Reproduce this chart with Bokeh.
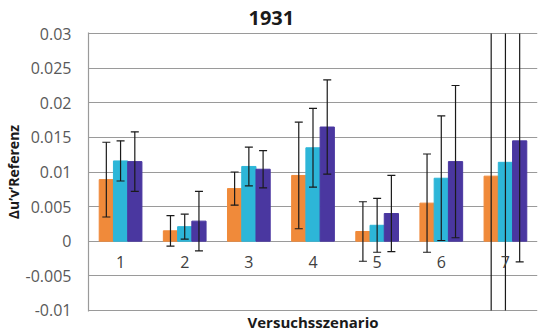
import numpy as np
from bokeh.plotting import figure
from bokeh.models import Range1d, FixedTicker, ColumnDataSource
from bokeh.core.properties import value
from bokeh.embed import file_html
from bokeh.resources import INLINE

categories = ["1", "2", "3", "4", "5", "6", "7"]
orange_vals = [0.0089, 0.0015, 0.0076, 0.0095, 0.0014, 0.0055, 0.0094]
orange_err = [0.0054, 0.0022, 0.0024, 0.0077, 0.0043, 0.0071, 0.0300]
cyan_vals = [0.0116, 0.0021, 0.0108, 0.0135, 0.0023, 0.0091, 0.0114]
cyan_err = [0.0029, 0.0018, 0.0028, 0.0057, 0.0039, 0.0090, 0.0300]
purple_vals = [0.0115, 0.0029, 0.0104, 0.0165, 0.0040, 0.0115, 0.0145]
purple_err = [0.0043, 0.0043, 0.0027, 0.0068, 0.0055, 0.0110, 0.0175]
y_ticks = [-0.01, -0.005, 0, 0.005, 0.01, 0.015, 0.02, 0.025, 0.03]
y_tick_labels = ["-0.01", "-0.005", "0", "0.005", "0.01", "0.015", "0.02", "0.025", "0.03"]

FONT = "Open Sans"
BAR_W = 0.222
Y_MIN, Y_MAX = -0.01, 0.03
PAD = 0.00016

p = figure(width=538, height=334, x_range=Range1d(0.5, 7.5),
           y_range=Range1d(Y_MIN - PAD, Y_MAX + PAD),
           output_backend="svg", toolbar_location=None,
           min_border_left=86, min_border_right=1, min_border_top=32, min_border_bottom=21)
p.outline_line_color = None
p.background_fill_color = "white"
p.border_fill_color = "white"

# title
p.title.text = "1931"
p.title.align = "left"
p.title.offset = 160
p.title.standoff = 16
p.title.text_font = FONT
p.title.text_font_size = "20px"
p.title.text_font_style = "bold"
p.title.text_color = "#1a1a1a"

# grid: drawn as horizontal spans at the tick values
p.xgrid.visible = False
p.ygrid.visible = False
p.hspan(y=y_ticks, line_color="#9a9a9a", line_width=1.2)

# y axis
p.yaxis.ticker = FixedTicker(ticks=y_ticks)
p.yaxis.major_label_overrides = {t: l for t, l in zip(y_ticks, y_tick_labels)}
p.yaxis.major_tick_out = 0
p.yaxis.major_tick_in = 0
p.yaxis.minor_tick_out = 0
p.yaxis.minor_tick_in = 0
p.yaxis.major_label_standoff = 17
p.yaxis.major_label_text_font = FONT
p.yaxis.major_label_text_font_size = "16px"
p.yaxis.major_label_text_color = "#595959"
p.yaxis.axis_line_color = "#9a9a9a"
p.yaxis.axis_line_width = 1.2
p.yaxis.axis_label = "Δu’v’Referenz"
p.yaxis.axis_label_text_font = FONT
p.yaxis.axis_label_text_font_size = "14px"
p.yaxis.axis_label_text_font_style = "bold"
p.yaxis.axis_label_text_color = "#1a1a1a"
p.yaxis.axis_label_standoff = 0

# x axis (only the title)
p.xaxis.ticker = FixedTicker(ticks=[])
p.xaxis.major_tick_out = 0
p.xaxis.major_tick_in = 0
p.xaxis.minor_tick_out = 0
p.xaxis.minor_tick_in = 0
p.xaxis.axis_line_color = None
p.xaxis.major_label_text_font_size = "0px"
p.xaxis.major_label_standoff = 0
p.xaxis.axis_label = "Versuchsszenario"
p.xaxis.axis_label_text_font = FONT
p.xaxis.axis_label_text_font_size = "15px"
p.xaxis.axis_label_text_font_style = "bold"
p.xaxis.axis_label_text_color = "#1a1a1a"
p.xaxis.axis_label_standoff = 0

cat_x = np.arange(1, len(categories) + 1)

series = [
    (orange_vals, orange_err, "#F08A3A", -BAR_W),
    (cyan_vals, cyan_err, "#2DB6D8", 0.0),
    (purple_vals, purple_err, "#4A37A0", BAR_W),
]

for vals, errs, color, off in series:
    v = np.array(vals)
    p.vbar(x=cat_x + off, top=v, bottom=0, width=BAR_W,
           fill_color=color, line_color=color)

for vals, errs, color, off in series:
    v = np.array(vals)
    e = np.array(errs)
    upper = v + e
    lower = v - e
    # error bars running past the axis range are cut at the plot edge (no cap drawn there)
    seg_up = np.clip(upper, Y_MIN, Y_MAX)
    seg_lo = np.clip(lower, Y_MIN, Y_MAX)
    cap_up = np.where(upper <= Y_MAX, upper, np.nan)
    cap_lo = np.where(lower >= Y_MIN, lower, np.nan)
    src = ColumnDataSource(dict(x=cat_x + off, up=seg_up, lo=seg_lo, cu=cap_up, cl=cap_lo))
    p.segment(x0="x", y0="lo", x1="x", y1="up", source=src,
              line_color="#1a1a1a", line_width=1.2)
    p.scatter(x="x", y="cu", marker="dash", size=8, source=src,
              line_color="#1a1a1a", line_width=1.2)
    p.scatter(x="x", y="cl", marker="dash", size=8, source=src,
              line_color="#1a1a1a", line_width=1.2)

# category labels just below the zero line
lab_src = ColumnDataSource(dict(x=cat_x, y=np.zeros(len(categories)), text=categories))
p.text(x="x", y="y", text="text", source=lab_src, y_offset=21,
       text_align="center", text_baseline="middle",
       text_font=value(FONT), text_font_size="16px", text_color="#404040")

open("out.html", "w").write(file_html(p, INLINE))
